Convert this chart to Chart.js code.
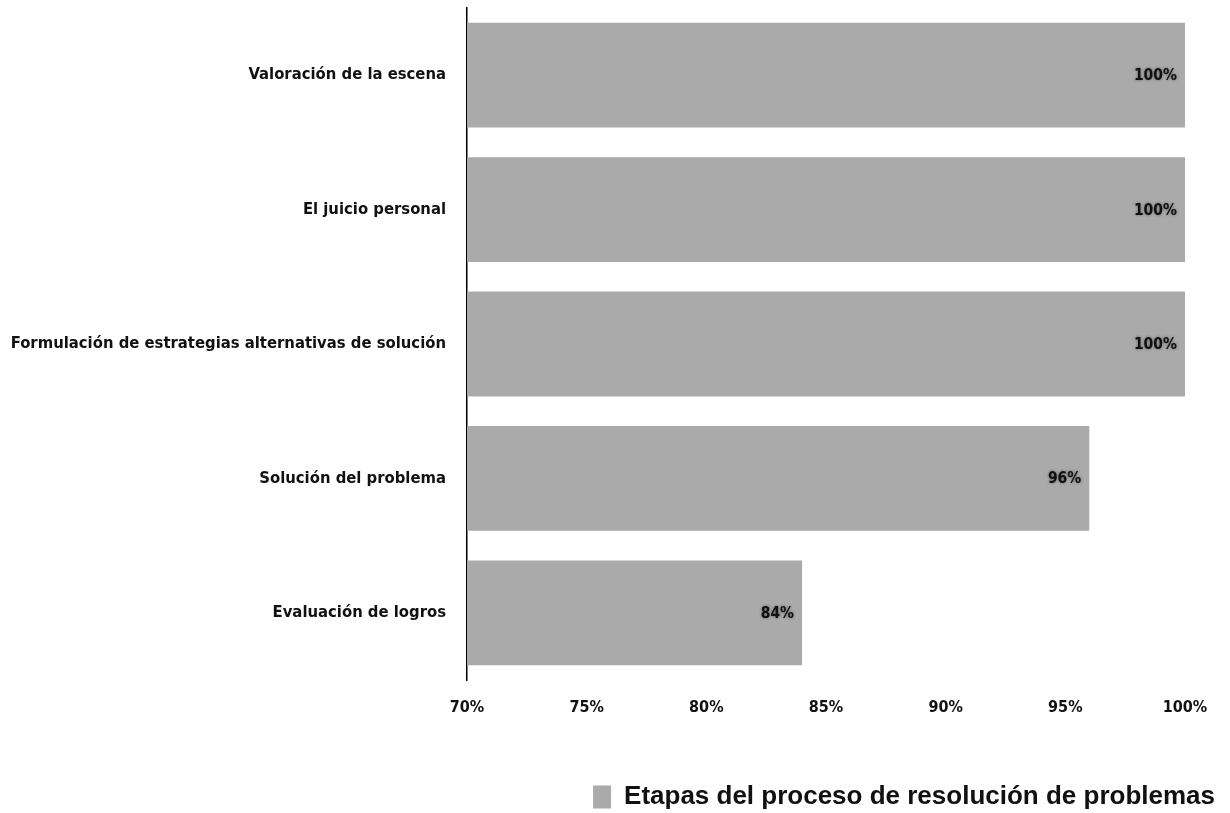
<!DOCTYPE html>
<html>
<head>
<meta charset="utf-8">
<script src="https://cdn.jsdelivr.net/npm/chart.js@4.4.1/dist/chart.umd.min.js"></script>
<style>
  html, body { margin: 0; padding: 0; background: #fff; }
  #wrap { width: 1230px; height: 813px; }
</style>
</head>
<body>
<div id="wrap"><canvas id="barChart" width="1230" height="813"></canvas></div>
<script>
var etapas = [
    'Valoración de la escena',
    'El juicio personal',
    'Formulación de estrategias alternativas de solución',
    'Solución del problema',
    'Evaluación de logros'
];
var porcentajes = [100, 100, 100, 96, 84];
var serieNombre = 'Etapas del proceso de resolución de problemas';
var ticksX = [70, 75, 80, 85, 90, 95, 100];

var narrow = "'Liberation Sans Narrow', 'DejaVu Sans Condensed', 'Liberation Sans', sans-serif";

// values written at the end of each bar
var valueLabels = {
    id: 'valueLabels',
    afterDatasetsDraw: function (chart) {
        var ctx = chart.ctx;
        var meta = chart.getDatasetMeta(0);
        ctx.save();
        ctx.font = 'bold 15.5px ' + narrow;
        ctx.fillStyle = '#111';
        ctx.textAlign = 'right';
        ctx.textBaseline = 'middle';
        ctx.shadowColor = 'rgba(0,0,0,0.45)';
        ctx.shadowBlur = 3;
        meta.data.forEach(function (bar, i) {
            ctx.fillText(porcentajes[i] + '%', bar.x - 8, bar.y + 1);
        });
        ctx.restore();
    }
};

// push the legend further right and down than the default layout puts it
var legendShift = {
    id: 'legendShift',
    afterLayout: function (chart) {
        var lg = chart.legend;
        lg.left += 44;
        lg.right += 44;
        lg.top += 13;
        lg.bottom += 13;
    }
};

var ctx = document.getElementById('barChart').getContext('2d');
var barChart = new Chart(ctx, {
    type: 'bar',
    data: {
        labels: etapas,
        datasets: [{
            label: serieNombre,
            data: porcentajes,
            backgroundColor: '#aaaaaa',
            borderWidth: 0,
            barPercentage: 0.78,
            categoryPercentage: 1
        }]
    },
    options: {
        indexAxis: 'y',
        responsive: false,
        maintainAspectRatio: false,
        animation: false,
        layout: { padding: { top: 8, right: 45, left: 0, bottom: 6 } },
        scales: {
            x: {
                min: 70,
                max: 100,
                afterBuildTicks: function (scale) {
                    scale.ticks = ticksX.map(function (v) { return { value: v }; });
                },
                afterFit: function (scale) { scale.height = 77; },
                grid: { display: false, drawTicks: false },
                border: { display: false },
                ticks: {
                    padding: 18,
                    color: '#111',
                    font: { family: narrow, size: 16, weight: 'bold' },
                    callback: function (v) { return v + '%'; }
                }
            },
            y: {
                afterFit: function (scale) {
                    scale.width = 467;
                    scale.paddingTop = 0;
                    scale.paddingBottom = 0;
                },
                grid: { display: false, drawTicks: false },
                border: { display: true, color: '#000', width: 1.5 },
                ticks: {
                    padding: 21,
                    color: '#111',
                    font: { family: narrow, size: 16.5, weight: 'bold' }
                }
            }
        },
        plugins: {
            legend: {
                position: 'bottom',
                align: 'end',
                labels: {
                    boxWidth: 18,
                    boxHeight: 23,
                    padding: 14,
                    color: '#111',
                    font: { family: "'Liberation Sans', Arial, sans-serif", size: 26, weight: 'bold' }
                }
            },
            tooltip: { enabled: false }
        }
    },
    plugins: [valueLabels, legendShift]
});
</script>
</body>
</html>
